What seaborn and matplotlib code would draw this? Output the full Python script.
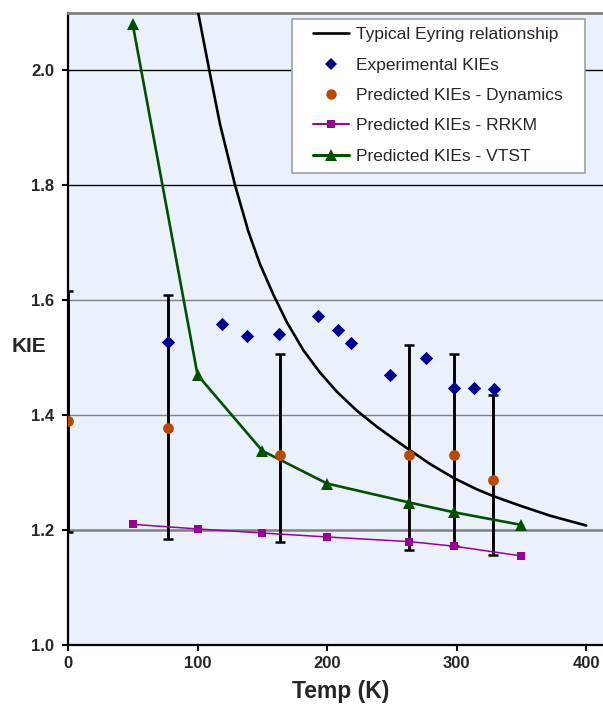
import numpy as np
import pandas as pd
import matplotlib
matplotlib.use("Agg")
import matplotlib.pyplot as plt
import seaborn as sns
from matplotlib.patches import Rectangle
from matplotlib.lines import Line2D

# ---------------- data ----------------
eyring_T = [100.6, 109.1, 117.4, 129.0, 139.2, 148.0, 158.5, 168.9, 181.7, 194.6,
            207.5, 222.9, 238.4, 253.8, 264.0, 279.5, 298.3, 315.6, 328.4, 349.0,
            372.2, 400.0]
eyring_kie = [2.099, 2.000, 1.906, 1.800, 1.720, 1.664, 1.610, 1.562, 1.513, 1.474,
              1.441, 1.408, 1.380, 1.355, 1.339, 1.315, 1.290, 1.271, 1.259, 1.2425,
              1.225, 1.208]

exp_T = [77, 118.7, 138, 163, 193.3, 208.7, 218.5, 248.6, 276.2, 298.3, 313.5, 329]
exp_kie = [1.527, 1.559, 1.538, 1.542, 1.573, 1.548, 1.525, 1.470, 1.499, 1.448, 1.448, 1.446]

dyn_T = [0, 77, 163.7, 263.5, 298.3, 328.4]
dyn_kie = [1.390, 1.377, 1.330, 1.330, 1.330, 1.287]
dyn_low = [1.197, 1.184, 1.180, 1.165, 1.172, 1.157]
dyn_high = [1.617, 1.609, 1.507, 1.523, 1.506, 1.435]

rrkm_T = [50, 100, 150, 200, 263.5, 298, 350]
rrkm_kie = [1.210, 1.202, 1.195, 1.188, 1.180, 1.172, 1.155]

vtst_T = [50, 100, 150, 200, 263.5, 298, 350]
vtst_kie = [2.080, 1.470, 1.338, 1.281, 1.248, 1.231, 1.209]

x_ticks = [0, 100, 200, 300, 400]
y_ticks = [1.0, 1.2, 1.4, 1.6, 1.8, 2.0]
y_tick_labels = ["1.0", "1.2", "1.4", "1.6", "1.8", "2.0"]

labels = ["Typical Eyring relationship", "Experimental KIEs",
          "Predicted KIEs - Dynamics", "Predicted KIEs - RRKM",
          "Predicted KIEs - VTST"]

# ---------------- styling ----------------
sns.set_style("white")
plt.rcParams["font.family"] = ["Liberation Sans", "DejaVu Sans"]

BG = "#EAF1FD"
C_EXP = "#000090"
C_DYN = "#B84A00"
C_RRKM = "#990099"
C_VTST = "#005000"

fig = plt.figure(figsize=(6.03, 7.04), dpi=100)
ax = fig.add_axes([68 / 603, 59 / 704, 535 / 603, 632 / 704])
ax.set_facecolor(BG)

eyr = pd.DataFrame({"T": eyring_T, "KIE": eyring_kie})
exp = pd.DataFrame({"T": exp_T, "KIE": exp_kie})
dyn = pd.DataFrame({"T": dyn_T, "KIE": dyn_kie})
rrkm = pd.DataFrame({"T": rrkm_T, "KIE": rrkm_kie})
vtst = pd.DataFrame({"T": vtst_T, "KIE": vtst_kie})

# error bars for dynamics
yerr = np.array([np.array(dyn_kie) - np.array(dyn_low),
                 np.array(dyn_high) - np.array(dyn_kie)])
ax.errorbar(dyn_T, dyn_kie, yerr=yerr, fmt="none", ecolor="black",
            elinewidth=2.1, capsize=3.9, capthick=1.8, zorder=3)

sns.lineplot(data=eyr, x="T", y="KIE", ax=ax, color="black", lw=1.9,
             sort=False, zorder=4, legend=False)
sns.lineplot(data=rrkm, x="T", y="KIE", ax=ax, color=C_RRKM, lw=1.1,
             marker="s", markersize=5.5, markeredgewidth=0, zorder=4, legend=False)
sns.lineplot(data=vtst, x="T", y="KIE", ax=ax, color=C_VTST, lw=1.9,
             marker="^", markersize=9, markeredgewidth=0, zorder=4, legend=False)
sns.scatterplot(data=exp, x="T", y="KIE", ax=ax, color=C_EXP, marker="D",
                s=46, linewidth=0, zorder=5, legend=False)
sns.scatterplot(data=dyn, x="T", y="KIE", ax=ax, color=C_DYN, marker="o",
                s=60, linewidth=0, zorder=5, legend=False)

ax.set_xlim(0, 413)
ax.set_ylim(1.0, 2.1)
ax.set_xticks(x_ticks)
ax.set_xticklabels([str(t) for t in x_ticks], fontsize=12, fontweight="bold")
ax.set_yticks(y_ticks)
ax.set_yticklabels(y_tick_labels, fontsize=12, fontweight="bold")
ax.tick_params(axis="both", direction="out", length=4, width=1.5, color="black",
               bottom=True, left=True)
ax.tick_params(axis="y", pad=6)
ax.tick_params(axis="x", pad=4)

# gridlines
ax.yaxis.grid(True, zorder=0)
ax.set_axisbelow(True)
for val, gl in zip(y_ticks, ax.get_ygridlines()):
    if val >= 1.8:
        gl.set_color("black"); gl.set_linewidth(1.0)
    elif abs(val - 1.2) < 1e-6:
        gl.set_color("#808080"); gl.set_linewidth(1.8)
    elif val > 1.01:
        gl.set_color("#808080"); gl.set_linewidth(1.0)
    else:
        gl.set_visible(False)

for s in ["left", "bottom"]:
    ax.spines[s].set_color("black")
    ax.spines[s].set_linewidth(1.6)
ax.spines["top"].set_color("#808080")
ax.spines["top"].set_linewidth(2.0)
ax.spines["right"].set_visible(False)

ax.set_xlabel("Temp (K)", fontsize=16.5, fontweight="bold")
ax.xaxis.set_label_coords(0.51, -0.074)
ax.xaxis.label.set_va("center")
ax.set_ylabel("KIE", fontsize=15, fontweight="bold", rotation=0)
ax.yaxis.set_label_coords(-0.073, 0.473)
ax.yaxis.label.set_va("center")
ax.yaxis.label.set_ha("center")

# legend frame
x0 = (292 - 68) / 535
x1 = (585 - 68) / 535
yt = (645 - 19) / 632
yb = (645 - 173) / 632
ax.add_patch(Rectangle((x0, yb), x1 - x0, yt - yb, transform=ax.transAxes,
                       facecolor="white", edgecolor="#A0A0A0", lw=1.2, zorder=6))

handles = [
    Line2D([], [], color="black", lw=1.9),
    Line2D([], [], color=C_EXP, marker="D", ls="none", markersize=6.5, markeredgewidth=0),
    Line2D([], [], color=C_DYN, marker="o", ls="none", markersize=7.5, markeredgewidth=0),
    Line2D([], [], color=C_RRKM, lw=1.4, marker="s", markersize=5.5, markeredgewidth=0),
    Line2D([], [], color=C_VTST, lw=2.2, marker="^", markersize=9, markeredgewidth=0),
]
leg = ax.legend(handles, labels, loc="upper left",
                bbox_to_anchor=((313 - 68) / 535, (645 - 27) / 632),
                frameon=False, fontsize=12.5, borderpad=0, borderaxespad=0,
                handlelength=2.1, handletextpad=0.35, labelspacing=0.88)
leg.set_zorder(7)

fig.savefig("out.png", dpi=100)
